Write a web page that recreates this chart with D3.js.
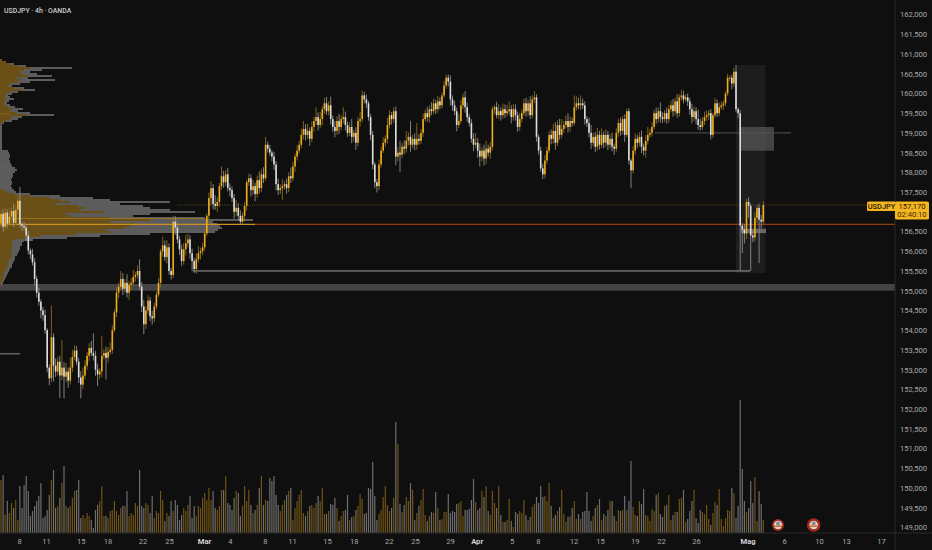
<!DOCTYPE html>
<html>
<head>
<meta charset="utf-8">
<script src="https://cdnjs.cloudflare.com/ajax/libs/d3/7.8.5/d3.min.js"></script>
<style>
  body { margin: 0; background: #0f0f0f; }
  text { font-family: Roboto, "Liberation Sans", sans-serif; }
</style>
</head>
<body>
<div id="chart"></div>
<script>
// closes, one row = 24 bars
var closes = [
  156.95,156.62,156.98,156.70,156.88,157.02,156.72,157.05,157.28,156.68,156.64,156.60,156.40,156.02,155.92,155.72,155.30,154.95,154.72,154.50,154.38,154.00,153.05,152.78,
  153.82,153.10,152.95,153.20,152.85,153.05,152.82,152.95,152.72,153.05,153.32,153.48,153.20,152.80,152.62,152.85,153.10,153.35,153.55,153.42,153.35,153.00,152.88,152.95,
  153.35,153.42,153.30,153.45,153.50,154.00,154.45,154.95,155.10,155.30,155.05,155.20,154.95,155.15,155.20,155.35,155.40,155.50,155.10,154.60,154.15,154.50,154.75,154.35,
  154.30,154.60,154.90,155.20,156.00,156.15,155.85,156.10,155.50,155.40,156.75,156.60,156.30,156.05,155.75,156.05,156.20,156.30,155.95,155.75,155.55,155.80,155.95,156.00,
  156.10,156.45,156.90,157.35,157.60,157.20,157.15,157.25,157.65,157.90,157.75,157.95,157.60,157.55,157.35,157.00,157.10,156.90,156.75,156.90,157.15,157.75,157.85,157.55,
  157.65,157.45,157.80,157.60,157.95,157.85,158.70,158.60,158.50,158.40,158.20,157.70,157.55,157.60,157.65,157.70,157.60,157.90,157.85,158.15,158.40,158.55,158.70,158.95,
  159.10,158.95,159.05,158.85,159.15,159.30,159.40,159.20,159.35,159.60,159.75,159.55,159.70,159.35,159.15,159.05,159.30,159.15,159.35,159.40,159.20,159.00,159.15,158.90,
  159.00,158.75,159.30,159.35,159.95,159.85,159.75,159.40,158.95,158.20,157.75,157.65,158.20,158.55,158.75,158.85,159.20,159.45,159.35,159.55,158.40,158.50,158.45,158.65,
  158.60,158.80,158.90,158.70,158.85,158.70,158.85,158.80,159.00,159.35,159.50,159.40,159.60,159.55,159.75,159.60,159.80,159.70,159.95,160.20,160.40,160.30,159.85,159.70,
  159.55,159.20,159.30,159.70,159.90,159.65,159.40,159.25,158.85,158.70,158.75,158.55,158.40,158.55,158.35,158.60,158.50,158.65,159.60,159.65,159.45,159.55,159.45,159.60,
  159.50,159.55,159.60,159.40,159.60,159.45,159.15,159.35,159.50,159.75,159.55,159.75,159.45,159.85,159.90,158.90,158.55,158.10,157.95,158.30,158.55,158.95,158.85,159.05,
  158.75,159.20,158.95,159.10,159.20,159.30,159.15,159.30,159.25,159.65,159.75,159.70,159.75,159.70,159.35,159.25,159.00,158.75,158.90,158.65,158.95,158.70,158.95,158.75,
  158.95,158.70,158.85,158.65,158.60,159.00,159.25,159.05,159.35,158.95,159.55,158.30,158.05,158.55,158.85,158.75,158.90,158.65,158.55,158.80,158.95,159.00,159.15,159.50,
  159.35,159.55,159.40,159.35,159.50,159.35,159.60,159.70,159.55,159.80,159.50,159.90,159.95,159.85,159.90,159.80,159.60,159.40,159.55,159.35,159.20,159.15,159.30,159.40,
  159.45,159.50,158.95,159.45,159.75,159.50,159.65,159.70,159.75,160.00,160.40,160.40,160.25,160.55,159.60,159.50,156.65,156.55,156.45,157.25,157.15,156.40,156.35,156.85,
  157.10,156.80,156.75,157.17
];
var firstOpen = 156.70;

// wick lengths in hundredths of a yen above / below the body
var wickUp = [
  8,12,15,9,22,10,18,12,14,35,6,10,8,12,5,14,10,8,12,6,9,14,5,8,
  80,10,18,12,15,70,14,22,10,25,18,14,12,9,16,20,14,10,12,18,50,12,15,8,
  50,10,16,12,18,12,8,14,10,20,15,9,22,10,12,18,8,14,30,12,16,10,14,9,
  14,10,8,12,6,22,12,18,10,8,15,14,10,9,12,16,22,14,10,12,8,14,18,9,
  12,10,6,14,18,10,22,12,8,25,14,10,16,12,9,10,20,12,14,8,10,6,12,10,
  16,9,12,22,14,18,20,8,10,6,12,9,14,10,18,8,14,10,22,12,8,14,10,16,
  20,12,18,9,14,10,25,12,18,8,14,16,10,22,9,15,12,18,10,25,14,9,12,20,
  8,14,10,18,12,9,12,6,8,10,6,8,12,10,14,9,18,12,8,10,12,14,30,9,
  16,25,12,40,10,14,40,12,10,14,9,16,10,18,12,9,14,10,8,12,8,8,16,10,
  12,9,18,14,10,16,12,8,10,14,25,12,18,9,15,20,10,12,8,6,14,18,10,14,
  12,16,20,10,14,12,9,16,10,12,14,9,18,10,16,8,6,10,12,14,10,9,14,18,
  22,12,16,25,10,14,20,12,9,30,18,14,20,12,10,8,14,20,10,12,18,10,16,9,
  14,10,12,16,8,12,10,14,8,12,6,8,5,12,14,10,12,16,8,14,20,10,12,8,
  14,10,22,12,8,14,10,12,16,10,18,8,14,12,8,10,9,14,12,10,24,16,10,14,
  12,8,10,6,14,9,12,10,8,6,10,6,8,10,17,5,8,6,14,8,12,6,10,14,
  8,10,12,10
];
var wickDown = [
  9,14,10,12,8,16,11,9,13,8,12,9,14,10,12,8,16,12,10,20,14,9,12,18,
  10,40,14,10,57,12,55,14,18,10,12,8,9,14,35,12,9,10,14,8,12,16,30,12,
  14,9,55,12,8,10,6,12,14,9,16,10,12,18,14,9,12,10,8,14,25,12,9,12,
  16,10,8,6,12,14,10,16,9,12,8,18,10,14,12,9,16,10,14,25,10,12,8,16,
  10,8,6,12,18,14,10,16,12,9,14,10,8,16,10,18,12,10,8,6,14,12,10,16,
  12,18,9,14,10,12,6,10,8,12,14,16,12,10,30,9,14,10,12,8,14,10,8,9,
  12,14,10,18,9,12,10,14,8,16,12,9,10,14,12,16,10,18,9,12,14,10,8,16,
  12,18,9,14,8,10,12,9,14,12,15,16,10,8,6,10,12,9,14,10,22,12,45,9,
  14,10,12,18,9,14,12,10,8,10,6,12,14,10,8,12,9,10,8,6,8,12,16,14,
  10,16,8,6,10,14,12,9,10,16,8,18,25,12,18,14,10,16,9,12,8,10,14,9,
  12,8,10,16,9,14,12,10,8,6,14,12,10,8,9,12,10,8,12,10,8,6,14,12,
  18,8,12,9,10,8,14,12,9,6,8,10,12,9,14,10,12,16,9,14,10,12,8,14,
  10,14,9,12,16,8,10,12,9,18,6,10,45,8,10,14,9,16,12,18,10,8,9,6,
  12,9,14,10,8,12,9,8,14,10,12,9,8,10,6,12,14,16,10,14,12,9,8,10,
  9,12,12,8,6,10,8,6,12,8,6,10,14,9,8,12,113,60,25,14,30,90,12,10,
  14,110,18,8
];

// volume in relative units, one per bar
var volumes = [
  53,58,18,32,20,30,25,33,13,47,25,48,57,42,17,22,27,32,37,50,15,17,23,38,
  53,63,25,27,35,50,67,27,25,27,35,42,43,53,15,18,15,20,17,13,5,23,28,32,
  47,17,17,15,22,23,32,22,18,25,27,27,42,17,20,18,30,27,63,27,25,30,28,20,
  37,15,22,20,42,33,12,20,17,32,22,33,28,13,18,25,22,28,37,15,27,17,27,25,
  35,40,33,45,33,42,25,23,27,43,43,57,30,28,23,35,42,40,17,27,47,32,43,28,
  20,23,28,45,57,28,33,32,55,52,57,38,28,22,28,33,38,42,45,13,25,32,38,43,
  20,17,22,27,28,25,30,37,32,45,19,19,22,29,28,35,25,12,17,22,23,38,13,16,
  17,23,27,39,34,19,20,45,44,71,37,13,19,23,36,47,28,22,25,35,111,89,29,21,
  28,36,32,50,43,13,20,27,33,44,18,12,17,21,20,41,25,13,14,21,21,39,20,22,
  21,29,30,32,17,23,23,24,33,54,31,23,25,42,36,47,22,18,42,30,25,47,18,11,
  11,13,34,12,6,21,19,22,20,33,18,13,16,26,29,36,30,47,36,37,32,50,27,15,
  18,22,26,43,19,11,16,17,25,32,14,19,14,21,22,41,22,12,17,25,28,34,13,19,
  17,23,32,32,17,12,23,22,23,37,23,32,72,26,18,17,32,29,44,18,17,12,24,22,
  38,40,19,16,27,28,38,13,18,21,21,34,35,43,11,14,22,32,43,15,10,23,21,19,
  28,14,8,20,31,28,44,14,7,15,23,22,45,40,15,27,133,64,32,21,25,52,30,56,
  12,42,29,13
];

// volume profile rows, 0.05 yen apart going down from the top level
var profileTop = 160.85;
var profileTotal = [
  2,6,14,26,72,42,30,37,52,28,55,30,20,12,24,35,18,12,8,10,14,9,7,10,15,23,18,30,54,22,18,12,4,
  2,2,2,2,2,2,2,2,2,2,2,2,2,
  8,9,10,10,9,10,10,11,12,15,17,15,13,13,12,11,12,12,11,12,14,16,
  30,60,93,110,170,120,143,150,170,195,150,133,205,253,213,217,220,222,218,215,150,100,67,33,
  24,22,22,20,20,19,18,17,15,15,14,13,12,12,10,9,8,7,6,5,4,3,2
];
var profileGold = [
  2,5,10,18,30,24,20,22,28,16,20,18,10,8,14,22,10,6,5,5,7,5,4,5,8,12,10,16,26,12,10,6,2,
  0,0,0,0,0,0,0,0,0,0,0,0,0,
  0,0,0,0,0,0,0,0,0,0,0,0,0,0,0,0,0,0,0,0,4,6,
  14,30,50,60,70,55,78,85,80,105,65,70,110,150,110,135,130,125,105,110,75,40,25,14,
  12,12,12,12,12,11,11,12,12,10,9,8,8,7,6,5,4,4,3,3,2,1,1
];

var priceTicks = [162,161.5,161,160.5,160,159.5,159,158.5,158,157.5,156.5,156,155.5,155,154.5,154,153.5,153,152.5,152,151.5,151,150.5,150,149.5,149];
var dateLabels = ["8","11","15","18","22","25","Mar","4","8","11","15","18","22","25","29","Apr","5","8","12","15","19","22","26","Mag","6","10","13","17"];
var dateBars = [8.6,21.4,38,50.7,67.4,80,96.7,109,125.7,138.6,155.2,168,184.6,197.2,213.8,226.5,243.2,255.7,272.6,285.2,301.8,314.3,331,355.5,372.9,389.5,402.4,419];
var eventBars = [370, 387];
var lastPrice = 157.17;
var pocPrice = 156.68;

var svgWidth = 932;
var svgHeight = 550;
var plotRight = 895;
var plotBottom = 533;

var svg = d3.select("#chart").append("svg")
  .attr("width", svgWidth)
  .attr("height", svgHeight)
  .style("display", "block");

svg.append("rect")
  .attr("width", svgWidth)
  .attr("height", svgHeight)
  .attr("fill", "#0f0f0f");

// scales: bar number -> x, price -> y
var xScale = d3.scaleLinear().domain([0, 100]).range([1, 211]);
var yScale = d3.scaleLinear().domain([155, 161]).range([290.7, 54]);
var volScale = d3.scaleLinear().domain([0, 133]).range([plotBottom, 400]);
var profileY = function(row) { return yScale(profileTop - row * 0.05); };

var bars = closes.map(function(c, i) {
  var o = i === 0 ? firstOpen : closes[i - 1];
  return {
    i: i,
    open: o,
    close: c,
    high: Math.max(o, c) + wickUp[i] / 100,
    low: Math.min(o, c) - wickDown[i] / 100,
    up: c >= o,
    vol: volumes[i]
  };
});

// shaded zones behind the candles
svg.append("rect")
  .attr("x", xScale(350)).attr("width", xScale(364) - xScale(350))
  .attr("y", yScale(160.72)).attr("height", yScale(155.45) - yScale(160.72))
  .attr("fill", "#fff").attr("opacity", 0.06);

svg.append("rect")
  .attr("x", 0).attr("width", plotRight)
  .attr("y", yScale(155.17)).attr("height", yScale(155) - yScale(155.17))
  .attr("fill", "#444");

// volume profile on the left
var profile = svg.append("g").attr("shape-rendering", "crispEdges");
profile.selectAll(".total").data(profileTotal).enter().append("rect")
  .attr("x", 0)
  .attr("y", function(d, i) { return profileY(i) - 1; })
  .attr("width", function(d) { return d; })
  .attr("height", 2.1)
  .attr("fill", "#5c5c5c");
profile.selectAll(".gold").data(profileGold).enter().append("rect")
  .attr("x", 0)
  .attr("y", function(d, i) { return profileY(i) - 1; })
  .attr("width", function(d) { return d; })
  .attr("height", 2.1)
  .attr("fill", "#6a5016");

// levels
function level(price, x0, x1, color, w, dash) {
  svg.append("line")
    .attr("x1", x0).attr("x2", x1)
    .attr("y1", yScale(price)).attr("y2", yScale(price))
    .attr("stroke", color).attr("stroke-width", w)
    .attr("stroke-dasharray", dash || null);
}
level(lastPrice, 178, plotRight, "#5c4316", 1, "1 1");
level(pocPrice, 255, plotRight, "#8f3a12", 1.2);
level(pocPrice, 0, 255, "#d08f24", 1.2);
level(156.83, 0, 205, "#a87a1c", 0.8);
level(153.4, 0, 20, "#777", 1.2);
level(158.16, 0, 8, "#666", 0.8);
level(159.48, 0, 10, "#8a6a1e", 0.8);
level(155.5, 193, 750, "#a0a0a0", 1);

svg.append("rect")
  .attr("x", 740).attr("width", 34)
  .attr("y", yScale(159.15)).attr("height", yScale(158.55) - yScale(159.15))
  .attr("fill", "#555").attr("opacity", 0.75);
level(159.0, 655, 791, "#555", 1);
svg.append("rect")
  .attr("x", 741).attr("width", 25)
  .attr("y", yScale(156.57)).attr("height", yScale(156.46) - yScale(156.57))
  .attr("fill", "#666");

// candles
var candles = svg.append("g");
candles.selectAll(".wick").data(bars).enter().append("line")
  .attr("x1", function(d) { return xScale(d.i); })
  .attr("x2", function(d) { return xScale(d.i); })
  .attr("y1", function(d) { return yScale(d.high); })
  .attr("y2", function(d) { return yScale(d.low); })
  .attr("stroke", function(d) { return d.up ? "#8a6a1e" : "#8c8c8c"; })
  .attr("stroke-width", 0.9);
candles.selectAll(".body").data(bars).enter().append("rect")
  .attr("x", function(d) { return xScale(d.i) - 0.8; })
  .attr("width", 1.6)
  .attr("y", function(d) { return yScale(Math.max(d.open, d.close)); })
  .attr("height", function(d) { return Math.max(1, Math.abs(yScale(d.open) - yScale(d.close))); })
  .attr("fill", function(d) { return d.up ? "#f0ae1c" : "#dcdcdc"; });

// volume
svg.append("g").selectAll("rect").data(bars).enter().append("rect")
  .attr("x", function(d) { return xScale(d.i) - 0.6; })
  .attr("width", 1.2)
  .attr("y", function(d) { return volScale(d.vol); })
  .attr("height", function(d) { return plotBottom - volScale(d.vol); })
  .attr("fill", function(d) { return d.up ? "#6f5317" : "#6e6e6e"; });

// event markers after the last bar
var events = svg.append("g").selectAll("g").data(eventBars).enter().append("g")
  .attr("transform", function(d) { return "translate(" + xScale(d) + ",525)"; });
events.append("circle").attr("r", function(d, i) { return i === 0 ? 6 : 6.8; }).attr("fill", "#a5281e");
events.append("circle").attr("r", 4.3).attr("fill", "#d9d4cc");
events.append("rect").attr("x", -4).attr("width", 8).attr("y", 0.5).attr("height", 1.4).attr("fill", "#c8641e");
events.append("circle").attr("r", 2).attr("cy", -1.4).attr("fill", "#8a8a8a");

// axes
var yAxis = d3.axisRight(yScale)
  .tickValues(priceTicks)
  .tickSize(0)
  .tickPadding(5)
  .tickFormat(function(d) { return d3.format(",.0f")(d * 1000); });
var yAxisGroup = svg.append("g")
  .attr("transform", "translate(" + plotRight + ",0)")
  .call(yAxis);
yAxisGroup.select(".domain").remove();
yAxisGroup.selectAll("text").attr("fill", "#a8a8a8").attr("font-size", 7.6);

var xAxis = d3.axisBottom(xScale)
  .tickValues(dateBars)
  .tickSize(0)
  .tickPadding(6)
  .tickFormat(function(d, i) { return dateLabels[i]; });
var xAxisGroup = svg.append("g")
  .attr("transform", "translate(0," + plotBottom + ")")
  .call(xAxis);
xAxisGroup.select(".domain").remove();
xAxisGroup.selectAll("text")
  .attr("fill", function(d, i) { return isNaN(+dateLabels[i]) ? "#d4d4d4" : "#a8a8a8"; })
  .attr("font-weight", function(d, i) { return isNaN(+dateLabels[i]) ? "bold" : "normal"; })
  .attr("font-size", 7.6);

svg.append("line").attr("x1", plotRight).attr("x2", plotRight).attr("y1", 0).attr("y2", svgHeight).attr("stroke", "#2a2a2a");
svg.append("line").attr("x1", 0).attr("x2", svgWidth).attr("y1", plotBottom).attr("y2", plotBottom).attr("stroke", "#2a2a2a");

// title
svg.append("text")
  .attr("x", 4).attr("y", 12.5)
  .attr("fill", "#cfcfcf").attr("font-size", 6.9).attr("font-weight", 500)
  .text("USDJPY \u00b7 4h \u00b7 OANDA");

// last price tags
var tagTop = yScale(lastPrice) - 3.5;
svg.append("rect").attr("x", 867).attr("y", tagTop).attr("width", 29).attr("height", 9.5).attr("rx", 1.5).attr("fill", "#f5b51e");
svg.append("rect").attr("x", 895).attr("y", tagTop).attr("width", 34).attr("height", 18).attr("rx", 1.5).attr("fill", "#f5b51e");
svg.append("text").attr("x", 881.5).attr("y", tagTop + 7.2).attr("text-anchor", "middle")
  .attr("fill", "#1c1508").attr("font-size", 7.4).attr("font-weight", 500).text("USDJPY");
svg.append("text").attr("x", 912).attr("y", tagTop + 7.4).attr("text-anchor", "middle")
  .attr("fill", "#1c1508").attr("font-size", 7.6).text(d3.format(",.0f")(lastPrice * 1000));
svg.append("text").attr("x", 912).attr("y", tagTop + 15.6).attr("text-anchor", "middle")
  .attr("fill", "#3a2c0c").attr("font-size", 7.6).text("02:40:10");
</script>
</body>
</html>
